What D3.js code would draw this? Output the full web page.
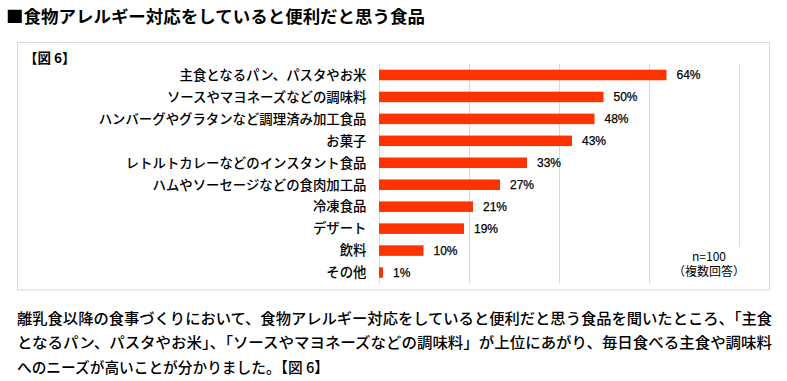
<!DOCTYPE html>
<html><head><meta charset="utf-8">
<script src="https://cdn.jsdelivr.net/npm/d3@7"></script>
<style>
html,body{margin:0;padding:0;background:#fff;}
svg{display:block;font-family:"Noto Sans CJK JP","Noto Sans",sans-serif;}
</style></head>
<body><svg id="c" width="787" height="381"></svg>
<script>
const titleText = "■食物アレルギー対応をしていると便利だと思う食品";
const figLabel = "【図 6】";
const categories = ["主食となるパン、パスタやお米","ソースやマヨネーズなどの調味料","ハンバーグやグラタンなど調理済み加工食品","お菓子","レトルトカレーなどのインスタント食品","ハムやソーセージなどの食肉加工品","冷凍食品","デザート","飲料","その他"];
const values = [64,50,48,43,33,27,21,19,10,1];
const gridTicks = [0,20,40,60,80];
const noteLines = ["n=100","（複数回答）"];
const paragraph = [
  "離乳食以降の食事づくりにおいて、食物アレルギー対応をしていると便利だと思う食品を聞いたところ、「主食",
  "となるパン、パスタやお米」、「ソースやマヨネーズなどの調味料」が上位にあがり、毎日食べる主食や調味料",
  "へのニーズが高いことが分かりました。【図 6】"
];

const svg = d3.select("#c");
const x = d3.scaleLinear().domain([0,80]).range([378.5,738.5]);
const y = d3.scaleBand().domain(categories).range([64,283.5]).paddingInner(0.52).paddingOuter(0.26);

// title
svg.append("text").attr("x",6).attr("y",23).attr("font-size",16.5).attr("font-weight","bold")
  .attr("fill","#000").attr("textLength",419).attr("lengthAdjust","spacingAndGlyphs").text(titleText);

// box
svg.append("rect").attr("x",17.5).attr("y",42.5).attr("width",752).attr("height",247.5)
  .attr("fill","none").attr("stroke","#d9d9d9").attr("stroke-width",1);

svg.append("text").attr("x",24).attr("y",63).attr("font-size",13.5).attr("font-weight","bold")
  .attr("fill","#000").text(figLabel);

// grid
svg.append("g").selectAll("line").data(gridTicks).join("line")
  .attr("x1",d=>Math.round(x(d))+0.5).attr("x2",d=>Math.round(x(d))+0.5)
  .attr("y1",64).attr("y2",d=>d===80?247:283.5)
  .attr("stroke","#d9d9d9").attr("stroke-width",1);

// bars
svg.append("g").selectAll("rect").data(values).join("rect")
  .attr("x",x(0)+0.5).attr("y",(d,i)=>y(categories[i]))
  .attr("width",d=>x(d)-x(0)-0.5).attr("height",y.bandwidth())
  .attr("fill","#ff3300");

// category labels
svg.append("g").selectAll("text").data(categories).join("text")
  .attr("x",366.5).attr("y",d=>y(d)+y.bandwidth()/2+4.8)
  .attr("text-anchor","end").attr("font-size",13.4).attr("font-weight",500).attr("fill","#000").text(d=>d);

// value labels
svg.append("g").selectAll("text").data(values).join("text")
  .attr("x",d=>x(d)+10).attr("y",(d,i)=>y(categories[i])+y.bandwidth()/2+4.5)
  .attr("font-family","Liberation Sans, Arial, sans-serif")
  .attr("font-size",12).attr("fill","#000").attr("stroke","#000").attr("stroke-width",0.25).text(d=>d+"%");

// note
svg.append("g").selectAll("text").data(noteLines).join("text")
  .attr("x",709).attr("y",(d,i)=>260.5+i*15.5).attr("text-anchor","middle")
  .attr("font-size",12).attr("fill","#000").text(d=>d);

// paragraph
const widths = [755,755,312];
svg.append("g").selectAll("text").data(paragraph).join("text")
  .attr("x",17).attr("y",(d,i)=>324+i*24.3)
  .attr("font-size",15).attr("font-weight",500).attr("fill","#000")
  .attr("textLength",(d,i)=>widths[i]).attr("lengthAdjust","spacingAndGlyphs")
  .text(d=>d);
</script></body></html>
